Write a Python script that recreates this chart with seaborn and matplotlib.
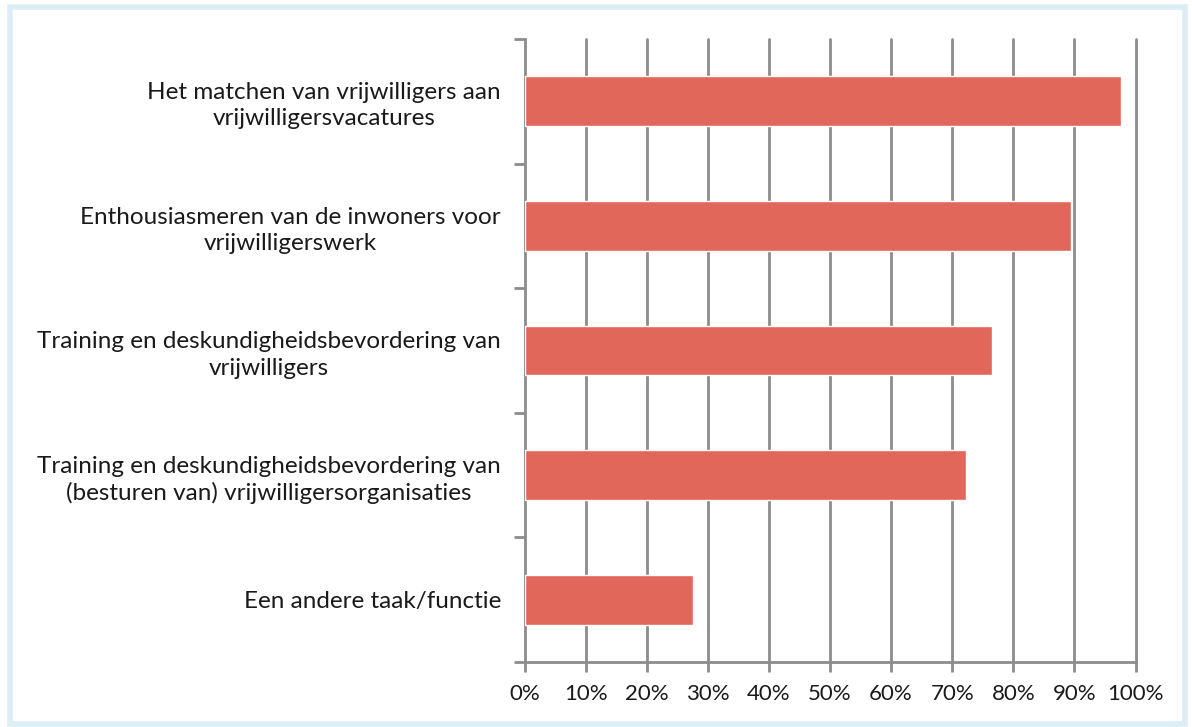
import matplotlib
matplotlib.use("Agg")
import matplotlib.pyplot as plt
import seaborn as sns
import pandas as pd
from matplotlib.patches import Rectangle
from matplotlib.ticker import PercentFormatter, FixedLocator

# data
taken = [
    "Het matchen van vrijwilligers aan\nvrijwilligersvacatures",
    "Enthousiasmeren van de inwoners voor\nvrijwilligerswerk",
    "Training en deskundigheidsbevordering van\nvrijwilligers",
    "Training en deskundigheidsbevordering van\n(besturen van) vrijwilligersorganisaties",
    "Een andere taak/functie",
]
percentages = [97.7, 89.4, 76.5, 72.2, 27.5]

df = pd.DataFrame({"taak": taken, "pct": percentages})

sns.set_style("white")
plt.rcParams["font.family"] = ["Lato", "DejaVu Sans"]

fig = plt.figure(figsize=(11.92, 7.27), dpi=100)
ax = fig.add_axes([524.5 / 1192, 1 - 662 / 727, (1135.5 - 524.5) / 1192, (662 - 39) / 727])

sns.barplot(data=df, x="pct", y="taak", orient="h", color="#E0675A",
            width=0.4, saturation=1, ax=ax, zorder=3)

grid_col = "#8C8C8C"
ax.set_xlim(0, 100)
ax.set_ylim(4.5, -0.5)
ax.set_xticks(range(0, 101, 10))
ax.xaxis.set_major_formatter(PercentFormatter(decimals=0))
for x in range(10, 101, 10):
    ax.axvline(x, color=grid_col, lw=2, zorder=1, clip_on=False)

# category boundary ticks on the y axis
ax.yaxis.set_minor_locator(FixedLocator([i - 0.5 for i in range(6)]))
ax.tick_params(axis="y", which="major", length=0, pad=17, labelsize=17.5, labelcolor="#1a1a1a")
ax.tick_params(axis="y", which="minor", length=8, width=2, color=grid_col, left=True)
ax.tick_params(axis="x", which="major", length=7, width=2, color=grid_col, bottom=True,
               labelsize=16, labelcolor="#1a1a1a", pad=9)
for lab in ax.get_yticklabels():
    lab.set_multialignment("center")
    lab.set_linespacing(1.3)

ax.set_xlabel("")
ax.set_ylabel("")
for side in ["top", "right"]:
    ax.spines[side].set_visible(False)
for side in ["left", "bottom"]:
    ax.spines[side].set_color(grid_col)
    ax.spines[side].set_linewidth(2)

# light blue frame around the figure
fig.patches.append(Rectangle((10 / 1192, 3 / 727), 1175 / 1192, 717 / 727,
                             transform=fig.transFigure, fill=False,
                             edgecolor="#DAEEF4", lw=4))

fig.savefig("out.png", dpi=100, facecolor="white")
